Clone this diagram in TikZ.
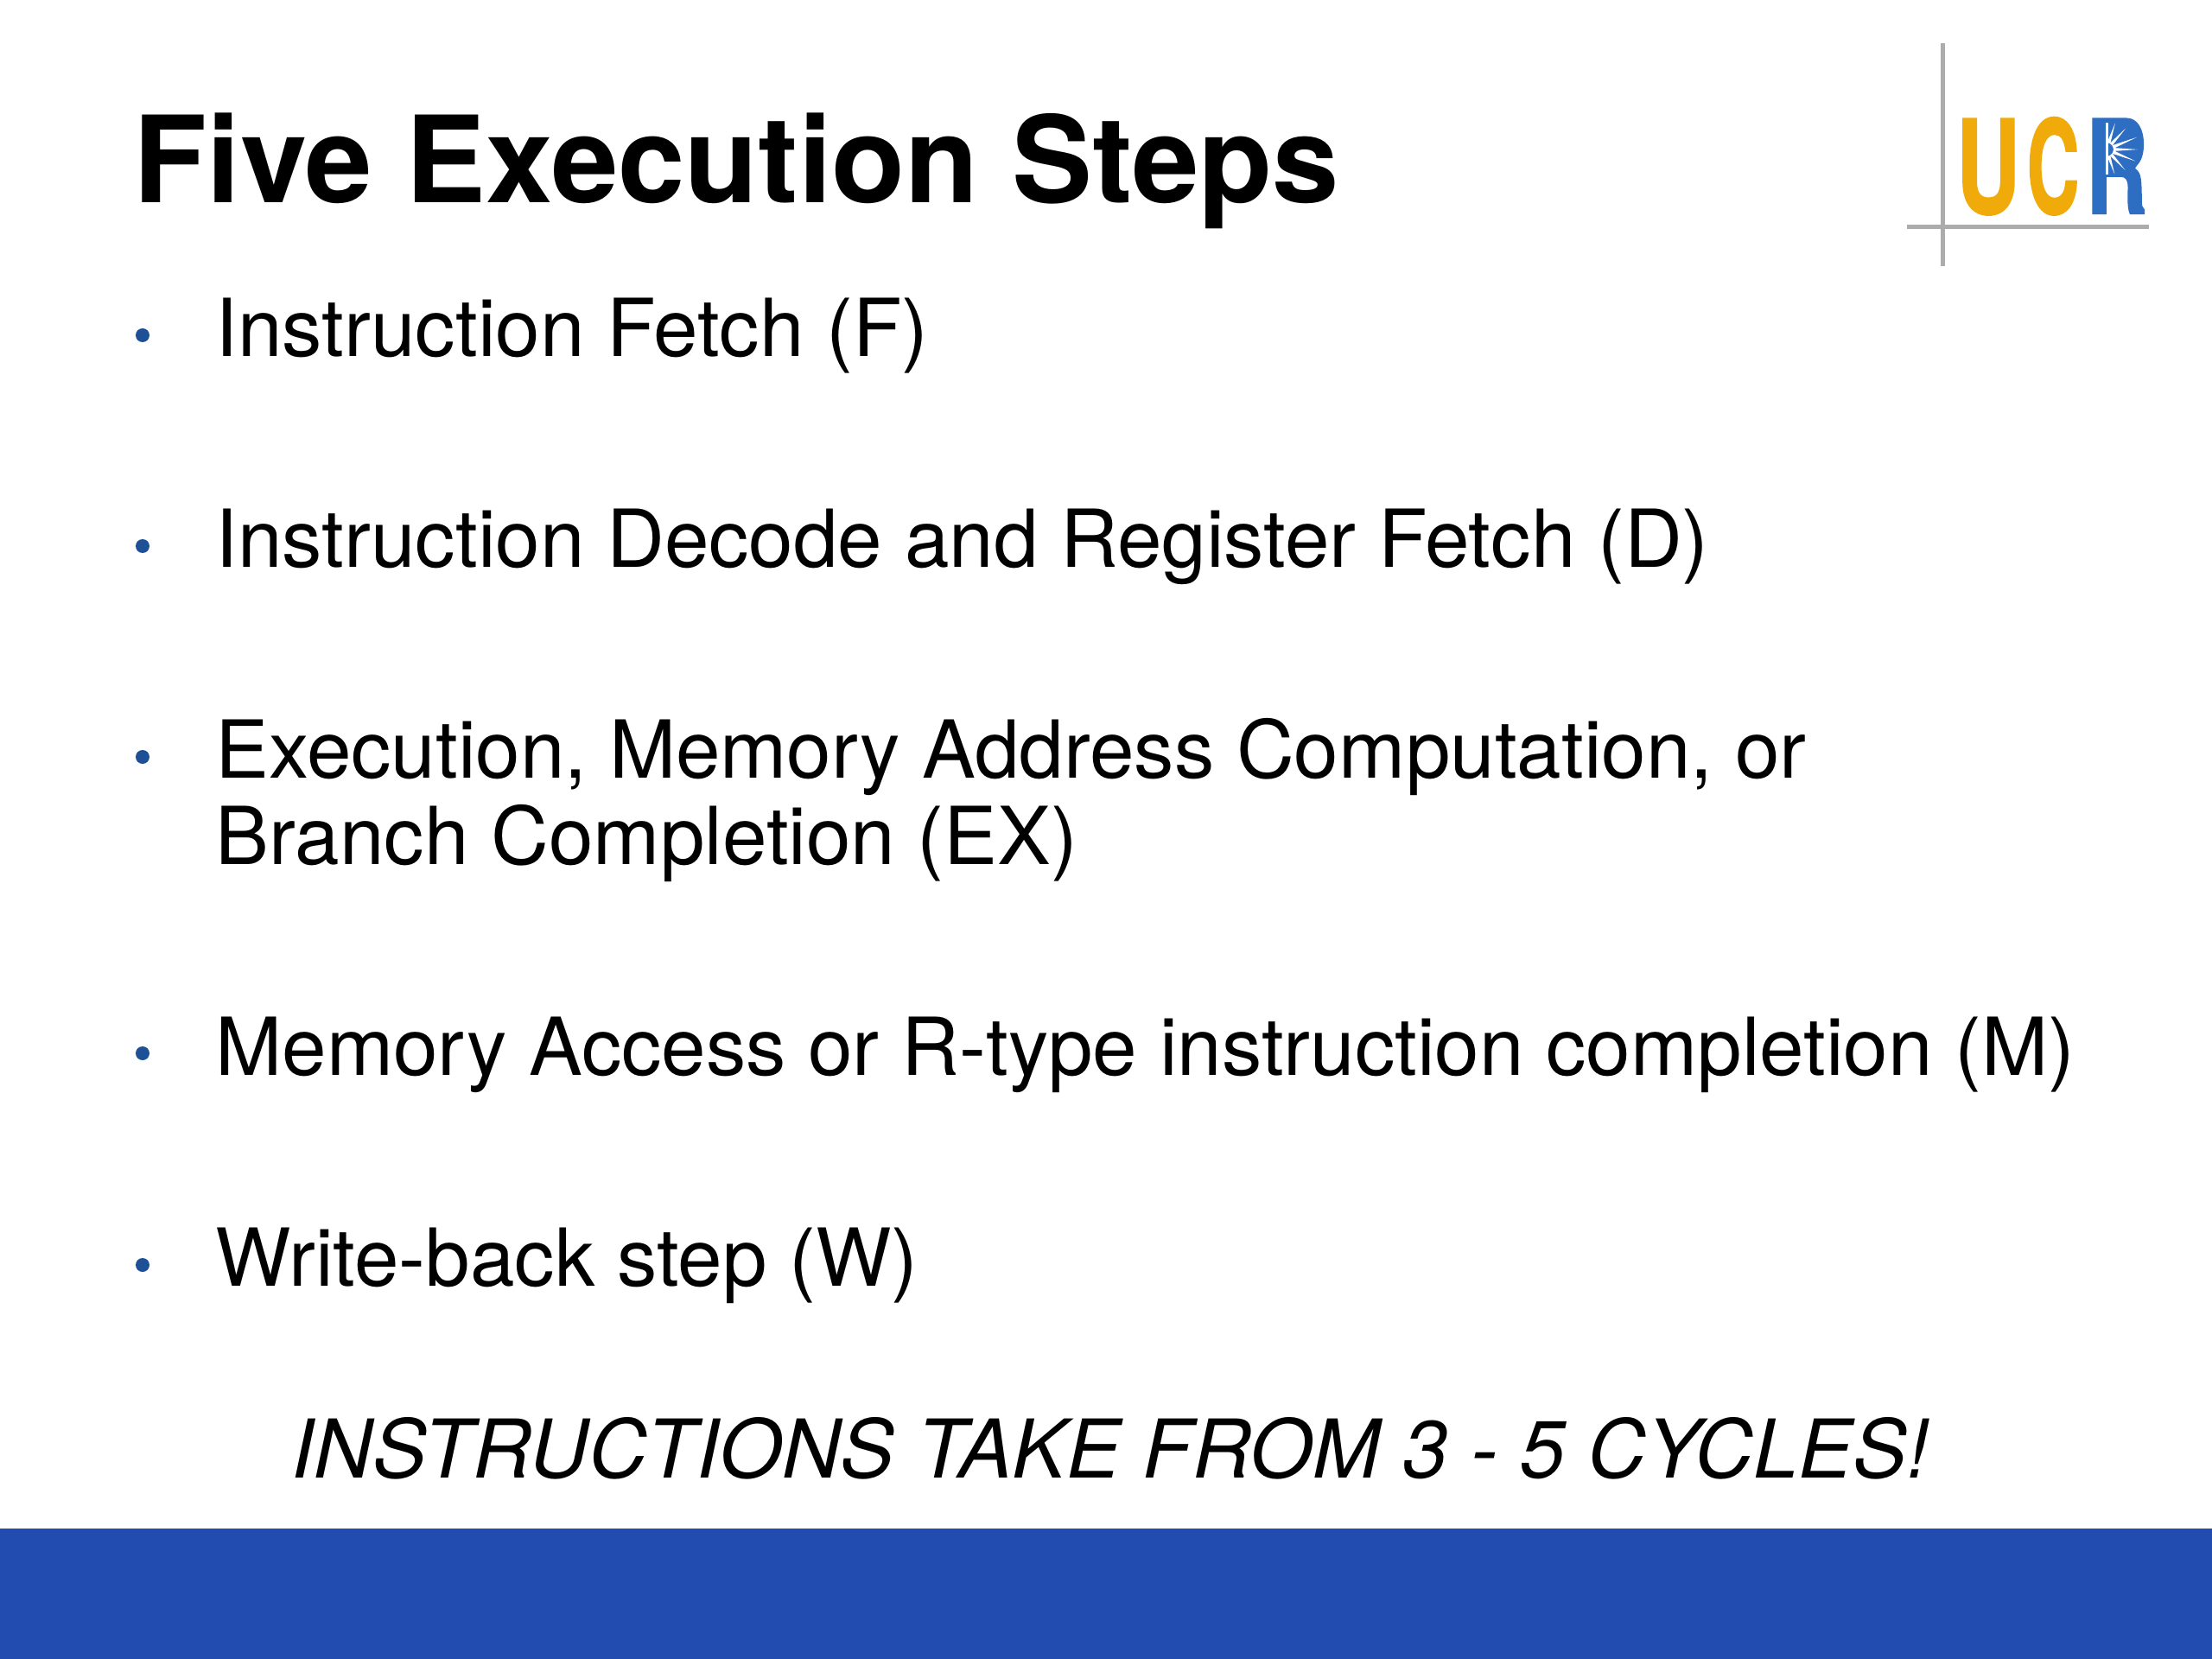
\documentclass[tikz,border=0pt]{standalone}
\usepackage{fontspec}
\setmainfont{TeX Gyre Heros}
\newfontfamily\logofont[FakeBold=1.5]{TeX Gyre Heros Bold}
\usepackage{tikz}
\usetikzlibrary{calc}
\definecolor{bandblue}{RGB}{34,76,176}
\definecolor{dotblue}{RGB}{30,80,150}
\definecolor{logogray}{RGB}{172,172,172}
\definecolor{logogold}{RGB}{240,170,10}
\definecolor{logoblue}{RGB}{45,110,195}
\tikzset{heading/.style={anchor=base west,inner sep=0pt,font=\bfseries\fontsize{39.6}{44}\selectfont}}
\tikzset{item/.style={anchor=base west,inner sep=0pt,font=\fontsize{26.35}{28.45}\selectfont,align=left}}
\tikzset{remark/.style={anchor=base,inner sep=0pt,font=\itshape\fontsize{26.7}{28.45}\selectfont}}
\tikzset{bullet/.style={circle,fill=dotblue,inner sep=0pt,minimum size=0.16cm}}
\tikzset{logoline/.style={draw=logogray,line width=0.05cm}}
\tikzset{logoletter/.style={anchor=base,inner sep=0pt,font=\logofont\fontsize{42.7}{44}\selectfont,transform shape}}

\begin{document}
\begin{tikzpicture}[x=1cm,y=-1cm]
  \useasboundingbox[fill=white] (0,0) rectangle (25.6,19.2);
  \fill[bandblue] (0,17.69) rectangle (25.6,19.2);

  \node[heading] (title) at (1.54,2.35) {Five Execution Steps};

  \node[bullet] (b1) at (1.65,3.88) {};
  \node[bullet] (b2) at (1.65,6.32) {};
  \node[bullet] (b3) at (1.65,8.76) {};
  \node[bullet] (b4) at (1.65,12.19) {};
  \node[bullet] (b5) at (1.65,14.64) {};

  \node[item] (i1) at (2.49,4.13) {Instruction Fetch (F)};
  \node[item] (i2) at (2.49,6.56) {Instruction Decode and Register Fetch (D)};
  \node[item] (i3) at (2.49,9.00) {Execution, Memory Address Computation, or};
  \node[item] (i3b) at (2.49,10.00) {Branch Completion (EX)};
  \node[item] (i4) at (2.49,12.44) {Memory Access or R-type instruction completion (M)};
  \node[item] (i5) at (2.49,14.88) {Write-back step (W)};
  \node[remark] (note) at (12.85,17.10) {INSTRUCTIONS TAKE FROM 3 - 5 CYCLES!};

  % logo
  \coordinate (vtop) at (22.48,0.50);
  \coordinate (vbot) at (22.48,3.08);
  \coordinate (hleft) at (22.07,2.63);
  \coordinate (hright) at (24.87,2.63);
  \draw[logoline] (vtop)--(vbot);
  \draw[logoline] (hleft)--(hright);
  \node[logoletter,text=logogold,xscale=0.68] (lu) at (23.01,2.47) {U};
  \node[logoletter,text=logogold,xscale=0.56] (lc) at (23.76,2.47) {C};
  \node[logoletter,text=logoblue,xscale=0.66] (lr) at (24.50,2.47) {R};
  \coordinate (sun) at (24.38,1.73);
  \fill[logoblue] (24.30,1.38) rectangle (24.55,2.04);
  \fill[logoblue] (24.55,1.71) ellipse (0.23 and 0.33);
  \fill[white] (24.37,1.42) rectangle (24.40,2.02);
  \foreach \a/\l in {-72/0.32,-48/0.33,-22/0.38,0/0.36,22/0.36,48/0.32,72/0.30}
    \fill[white] ($(sun)+(\a-14:0.08)$) -- ($(sun)+(\a:\l)$) -- ($(sun)+(\a+14:0.08)$) -- cycle;
\end{tikzpicture}
\end{document}
